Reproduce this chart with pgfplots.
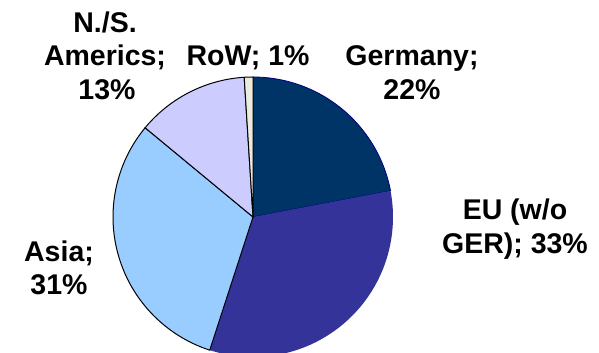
\documentclass[border=0pt]{standalone}
\usepackage{pgfplots}
\pgfplotsset{compat=1.18}
\usepackage{fontspec}
\setmainfont{Liberation Sans}
\definecolor{ger}{HTML}{003366}
\definecolor{eu}{HTML}{333399}
\definecolor{asia}{HTML}{99CCFF}
\definecolor{amer}{HTML}{CCCCFF}
\definecolor{row}{HTML}{ECEBDD}
\definecolor{gerline}{HTML}{000080}
\tikzset{lbl/.style={font={\fontsize{28.5bp}{34bp}\selectfont\bfseries}, anchor=base, inner sep=0pt}}
% shares in percent
\def\vGer{22}\def\vEU{33}\def\vAsia{31}\def\vAmer{13}\def\vRoW{1}
\pgfmathsetmacro\aA{90}
\pgfmathsetmacro\aB{\aA-3.6*\vGer}
\pgfmathsetmacro\aC{\aB-3.6*\vEU}
\pgfmathsetmacro\aD{\aC-3.6*\vAsia}
\pgfmathsetmacro\aE{\aD-3.6*\vAmer}
\pgfmathsetmacro\aF{\aE-3.6*\vRoW}
\begin{document}
\begin{tikzpicture}
\path[use as bounding box] (0,0) rectangle (599bp,353bp);
\begin{axis}[
  width=599bp, height=353bp, scale only axis,
  xmin=0, xmax=599, ymin=0, ymax=353,
  hide axis,
]
\addplot[fill=ger, draw=gerline, line width=0.8pt, domain=\aB:\aA, samples=60, variable=\t]
  ({253+140*cos(\t)},{136+140*sin(\t)}) -- (axis cs:253,136) -- cycle;
\addplot[fill=eu, draw=none, domain=\aC:\aB, samples=80, variable=\t]
  ({253+140*cos(\t)},{136+140*sin(\t)}) -- (axis cs:253,136) -- cycle;
\addplot[fill=asia, draw=black, line width=1pt, domain=\aD:\aC, samples=80, variable=\t]
  ({253+140*cos(\t)},{136+140*sin(\t)}) -- (axis cs:253,136) -- cycle;
\addplot[fill=amer, draw=black, line width=1pt, domain=\aE:\aD, samples=40, variable=\t]
  ({253+140*cos(\t)},{136+140*sin(\t)}) -- (axis cs:253,136) -- cycle;
\addplot[fill=row, draw=black, line width=1pt, domain=\aF:\aE, samples=5, variable=\t]
  ({253+140*cos(\t)},{136+140*sin(\t)}) -- (axis cs:253,136) -- cycle;
\node[lbl] at (axis cs:105,320) {N./S.};
\node[lbl] at (axis cs:105,287) {Americs;};
\node[lbl] at (axis cs:107,253) {13\%};
\node[lbl] at (axis cs:248,287) {RoW; 1\%};
\node[lbl] at (axis cs:412,287) {Germany;};
\node[lbl] at (axis cs:412,253) {22\%};
\node[lbl] at (axis cs:515,133) {EU (w/o};
\node[lbl] at (axis cs:515,99) {GER); 33\%};
\node[lbl] at (axis cs:59,91) {Asia;};
\node[lbl] at (axis cs:59,58) {31\%};
\end{axis}
\end{tikzpicture}
\end{document}
